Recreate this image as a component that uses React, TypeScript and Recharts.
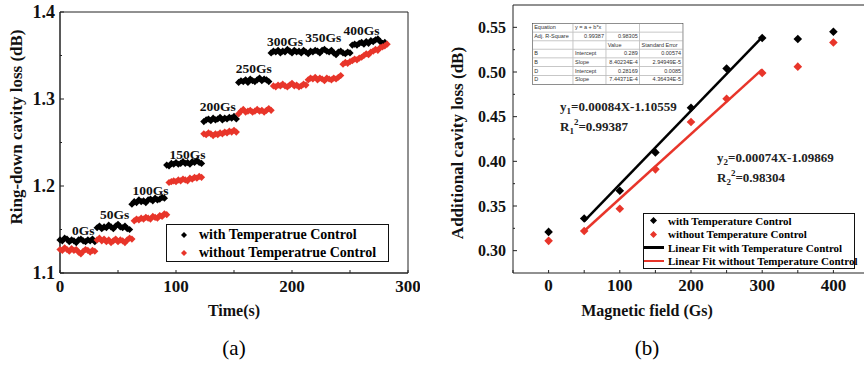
import React from 'react';
import {
  ScatterChart,
  Scatter,
  XAxis,
  YAxis,
  ReferenceArea,
  ReferenceLine,
  ReferenceDot,
} from 'recharts';

const SERIF = '"Liberation Serif", "Times New Roman", serif';
const SANS = '"Liberation Sans", Arial, sans-serif';
const BLACK = '#000000';
const RED = '#e8352a';
const AXIS = '#222222';

// ---- (a) ring-down cavity loss vs time, one sample every 2 s ----
const TIME_STEP = 2;
const withTempLoss = [
  // 0Gs
  1.138, 1.137, 1.14, 1.139, 1.136, 1.138, 1.137, 1.135, 1.138, 1.139, 1.137, 1.136, 1.138, 1.137, 1.139, 1.136,
  // 50Gs
  1.152, 1.154, 1.151, 1.153, 1.152, 1.155, 1.153, 1.151, 1.154, 1.156, 1.153, 1.152, 1.154, 1.151, 1.15,
  // 100Gs
  1.179, 1.182, 1.181, 1.184, 1.182, 1.183, 1.181, 1.184, 1.185, 1.183, 1.186, 1.184, 1.185, 1.187, 1.186,
  // 150Gs
  1.224, 1.223, 1.226, 1.225, 1.227, 1.225, 1.226, 1.228, 1.226, 1.227, 1.225, 1.228, 1.227, 1.229, 1.227, 1.226,
  // 200Gs
  1.274, 1.276, 1.277, 1.275, 1.278, 1.276, 1.277, 1.279, 1.276, 1.278, 1.277, 1.279, 1.278, 1.28, 1.277,
  // 250Gs
  1.319, 1.321, 1.32, 1.322, 1.319, 1.323, 1.321, 1.32, 1.322, 1.324, 1.321, 1.323, 1.322, 1.32,
  // 300Gs + 350Gs
  1.353, 1.355, 1.354, 1.356, 1.353, 1.355, 1.354, 1.357, 1.355, 1.353, 1.356, 1.354, 1.355, 1.353, 1.356, 1.354,
  1.352, 1.355, 1.354, 1.356, 1.355, 1.353, 1.356, 1.357, 1.355, 1.354, 1.356, 1.353, 1.351, 1.354, 1.355, 1.353,
  1.352, 1.354, 1.353,
  // 400Gs
  1.362, 1.363, 1.362, 1.364, 1.365, 1.363, 1.366, 1.364, 1.367, 1.366, 1.368, 1.369, 1.366, 1.364, 1.365,
];
const withoutTempLoss = [
  // 0Gs
  1.127, 1.126, 1.129, 1.127, 1.125, 1.128, 1.126, 1.127, 1.124, 1.122, 1.125, 1.127, 1.126, 1.124, 1.126, 1.125,
  // 50Gs
  1.138, 1.14, 1.137, 1.139, 1.136, 1.138, 1.135, 1.137, 1.139, 1.136, 1.138, 1.137, 1.135, 1.138, 1.14, 1.139,
  // 100Gs
  1.16, 1.162, 1.161, 1.163, 1.162, 1.164, 1.163, 1.162, 1.165, 1.164, 1.163, 1.166, 1.165, 1.168, 1.167,
  // 150Gs
  1.204, 1.205, 1.206, 1.205, 1.207, 1.206, 1.208, 1.207, 1.206, 1.209, 1.208, 1.21, 1.209, 1.211, 1.21,
  // 200Gs
  1.26, 1.259, 1.261, 1.26, 1.258, 1.26, 1.259, 1.261, 1.26, 1.262, 1.261, 1.263, 1.262, 1.264, 1.262,
  // 250Gs
  1.283, 1.286, 1.288, 1.285, 1.286, 1.287, 1.285, 1.286, 1.288, 1.286, 1.287, 1.285, 1.287, 1.289, 1.287,
  // 300Gs
  1.315, 1.314, 1.316, 1.315, 1.317, 1.315, 1.314, 1.316, 1.318, 1.315, 1.316, 1.314, 1.315, 1.317, 1.316,
  // 350Gs
  1.322, 1.324, 1.323, 1.325, 1.322, 1.324, 1.323, 1.321, 1.324, 1.323, 1.322, 1.324, 1.323, 1.325, 1.327,
  // 400Gs
  1.34, 1.342, 1.341, 1.343, 1.344, 1.346, 1.345, 1.347, 1.348, 1.35, 1.352, 1.351, 1.354, 1.355, 1.357, 1.356,
  1.359, 1.36, 1.361, 1.363,
];
const fieldLabels = ['0Gs', '50Gs', '100Gs', '150Gs', '200Gs', '250Gs', '300Gs', '350Gs', '400Gs'];
const fieldLabelTime = [20, 47, 78, 110, 136, 167, 194, 227, 260];
const fieldLabelLoss = [1.149, 1.168, 1.195, 1.237, 1.292, 1.335, 1.367, 1.371, 1.379];

const timeTicks = [0, 50, 100, 150, 200, 250, 300];
const timeLabels = [0, 100, 200, 300];
const lossTicks = [1.1, 1.15, 1.2, 1.25, 1.3, 1.35, 1.4];

// ---- (b) additional cavity loss vs magnetic field ----
const fieldGs = [0, 50, 100, 150, 200, 250, 300, 350, 400];
const withTempAdd = [0.321, 0.336, 0.367, 0.41, 0.46, 0.504, 0.538, 0.537, 0.545];
const withoutTempAdd = [0.311, 0.322, 0.347, 0.391, 0.444, 0.47, 0.499, 0.506, 0.533];
const fitGs = [50, 300];
const fitWithY = [0.333, 0.539];
const fitWithoutY = [0.322, 0.503];

const fieldTicks = [-50, 0, 50, 100, 150, 200, 250, 300, 350, 400];
const fieldTickLabels = [0, 100, 200, 300, 400];
const addTicks = [0.3, 0.325, 0.35, 0.375, 0.4, 0.425, 0.45, 0.475, 0.5, 0.525, 0.55];

const tableRows = [
  ['Equation', 'y = a + b*x', '', ''],
  ['Adj. R-Square', '0.99387', '0.98305', ''],
  ['', '', 'Value', 'Standard Error'],
  ['B', 'Intercept', '0.289', '0.00574'],
  ['B', 'Slope', '8.40234E-4', '2.94949E-5'],
  ['D', 'Intercept', '0.28169', '0.0085'],
  ['D', 'Slope', '7.44371E-4', '4.36434E-5'],
];

const lossSeries = (vals: number[]) => vals.map((v, i) => ({ x: i * TIME_STEP, y: v }));
const pairs = (xs: number[], ys: number[]) => xs.map((x, i) => ({ x, y: ys[i] }));

const diamond = (r: number) => (props: any) => {
  const { cx, cy, fill } = props;
  if (cx == null || cy == null) return <g />;
  return <path d={`M${cx},${cy - r}L${cx + r},${cy}L${cx},${cy + r}L${cx - r},${cy}Z`} fill={fill} />;
};

// inward ticks, labels only on the majors
const bottomTick = (labels: number[], len: number, fontSize: number, dy: number) => (props: any) => {
  const { x, y, payload } = props;
  const v = payload.value;
  return (
    <g>
      <line x1={x} x2={x} y1={y} y2={y - len} stroke={AXIS} />
      {labels.includes(v) && (
        <text x={x} y={y + dy} textAnchor="middle" fontFamily={SERIF} fontWeight="bold" fontSize={fontSize} fill="#111">
          {v}
        </text>
      )}
    </g>
  );
};

const leftTick = (isMajor: (v: number) => boolean, fmt: (v: number) => string, fontSize: number, dx: number) => (props: any) => {
  const { x, y, payload } = props;
  const v = payload.value;
  const major = isMajor(v);
  return (
    <g>
      <line x1={x} x2={x + (major ? 4 : 2)} y1={y} y2={y} stroke={AXIS} />
      {major && (
        <text x={x - dx} y={y} dy="0.35em" textAnchor="end" fontFamily={SERIF} fontWeight="bold" fontSize={fontSize} fill="#111">
          {fmt(v)}
        </text>
      )}
    </g>
  );
};

const Diamond = ({ color, r }: { color: string; r: number }) => (
  <svg width={2 * r + 2} height={2 * r + 2} style={{ display: 'block' }}>
    <path d={`M${r + 1},1L${2 * r + 1},${r + 1}L${r + 1},${2 * r + 1}L1,${r + 1}Z`} fill={color} />
  </svg>
);

const abs = (left: number, top: number, extra: React.CSSProperties = {}): React.CSSProperties => ({
  position: 'absolute',
  left,
  top,
  ...extra,
});

const eqStyle: React.CSSProperties = {
  fontFamily: SERIF,
  fontWeight: 'bold',
  fontSize: 13,
  lineHeight: '16px',
  color: '#222',
  whiteSpace: 'nowrap',
};
const subStyle: React.CSSProperties = { fontSize: 9, verticalAlign: -3, lineHeight: 0 };
const supStyle: React.CSSProperties = { fontSize: 9, verticalAlign: 6, lineHeight: 0 };

export default function App() {
  const withSeries = lossSeries(withTempLoss);
  const withoutSeries = lossSeries(withoutTempLoss);
  const withAdd = pairs(fieldGs, withTempAdd);
  const withoutAdd = pairs(fieldGs, withoutTempAdd);
  const fitWith = pairs(fitGs, fitWithY);
  const fitWithout = pairs(fitGs, fitWithoutY);

  const titleStyle: React.CSSProperties = {
    fontFamily: SERIF,
    fontWeight: 'bold',
    fontSize: 17,
    color: '#111',
    textAlign: 'center',
    lineHeight: '20px',
    whiteSpace: 'nowrap',
  };

  return (
    <div style={abs(0, 0, { width: 864, height: 365, overflow: 'hidden', background: '#fff', fontFamily: SERIF })}>
      {/* (a) */}
      <div style={abs(0, 0)}>
        <ScatterChart width={420} height={300} margin={{ top: 12, right: 12, bottom: 7, left: 20 }}>
          <XAxis
            type="number"
            dataKey="x"
            domain={[0, 300]}
            ticks={timeTicks}
            interval={0}
            tickSize={0}
            tickMargin={0}
            height={20}
            axisLine={{ stroke: AXIS }}
            tickLine={false}
            tick={bottomTick(timeLabels, 3, 17, 19)}
          />
          <YAxis
            type="number"
            dataKey="y"
            domain={[1.1, 1.4]}
            ticks={lossTicks}
            interval={0}
            tickSize={0}
            tickMargin={0}
            width={40}
            axisLine={{ stroke: AXIS }}
            tickLine={false}
            tick={leftTick((v) => Math.round(v * 100) % 10 === 0, (v) => v.toFixed(1), 18, 5)}
          />
          <ReferenceArea x1={0} x2={300} y1={1.1} y2={1.4} fill="none" stroke={AXIS} />
          <Scatter data={withSeries} fill={BLACK} shape={diamond(3.6)} isAnimationActive={false} />
          <Scatter data={withoutSeries} fill={RED} shape={diamond(3.6)} isAnimationActive={false} />
          {fieldLabels.map((lab, i) => (
            <ReferenceDot
              key={lab}
              x={fieldLabelTime[i]}
              y={fieldLabelLoss[i]}
              r={0}
              fill="none"
              stroke="none"
              label={{ value: lab, position: 'center', fill: '#111', fontSize: 13.5, fontWeight: 'bold', fontFamily: SERIF }}
            />
          ))}
        </ScatterChart>
      </div>

      {/* legend (a) */}
      <div style={abs(166, 224, { width: 221, height: 36, border: '1px solid #111', background: '#fff' })}>
        {[
          { c: BLACK, t: 'with Temperatrue Control' },
          { c: RED, t: 'without Temperatrue Control' },
        ].map((e, i) => (
          <div key={e.t} style={abs(0, 1 + i * 18, { display: 'flex', alignItems: 'center', height: 17 })}>
            <div style={{ marginLeft: 13, marginRight: 11 }}>
              <Diamond color={e.c} r={3} />
            </div>
            <span style={{ fontFamily: SERIF, fontWeight: 'bold', fontSize: 14, whiteSpace: 'nowrap' }}>{e.t}</span>
          </div>
        ))}
      </div>

      <div style={abs(-113, 117, { ...titleStyle, width: 260, transform: 'rotate(-90deg)' })}>Ring-down cavity loss (dB)</div>
      <div style={abs(134, 301, { ...titleStyle, width: 200, fontSize: 16 })}>Time(s)</div>
      <div style={abs(184, 336, { width: 100, textAlign: 'center', fontFamily: SERIF, fontSize: 21, lineHeight: '24px' })}>(a)</div>

      {/* (b) */}
      <div style={abs(440, 0)}>
        <ScatterChart width={440} height={300} margin={{ top: 5, right: 11, bottom: 7, left: 33 }}>
          <XAxis
            type="number"
            dataKey="x"
            domain={[-50, 450]}
            ticks={fieldTicks}
            interval={0}
            tickSize={0}
            tickMargin={0}
            height={20}
            axisLine={{ stroke: AXIS }}
            tickLine={false}
            tick={bottomTick(fieldTickLabels, 3, 17, 18)}
          />
          <YAxis
            type="number"
            dataKey="y"
            domain={[0.275, 0.575]}
            ticks={addTicks}
            interval={0}
            tickSize={0}
            tickMargin={0}
            width={40}
            axisLine={{ stroke: AXIS }}
            tickLine={false}
            tick={leftTick((v) => Math.round(v * 1000) % 50 === 0, (v) => v.toFixed(2), 16, 7)}
          />
          <ReferenceLine y={0.575} stroke={AXIS} />
          <Scatter data={fitWith} fill={BLACK} line={{ stroke: BLACK, strokeWidth: 2.5 }} shape={() => <g />} isAnimationActive={false} />
          <Scatter data={fitWithout} fill={RED} line={{ stroke: RED, strokeWidth: 2.5 }} shape={() => <g />} isAnimationActive={false} />
          <Scatter data={withAdd} fill={BLACK} shape={diamond(4.3)} isAnimationActive={false} />
          <Scatter data={withoutAdd} fill={RED} shape={diamond(4.3)} isAnimationActive={false} />
        </ScatterChart>
      </div>

      {/* fit table */}
      <div
        style={abs(532, 23, {
          width: 273,
          transform: 'scale(0.55)',
          transformOrigin: '0 0',
          border: '1.5px solid #333',
          background: '#fff',
          fontFamily: SANS,
          fontSize: 10,
          color: '#333',
        })}
      >
        {tableRows.map((row, r) => (
          <div key={r} style={{ display: 'flex', height: 14.8, borderTop: r ? '1px solid #999' : 'none' }}>
            {row.map((cell, c) => {
              const numeric = /^[0-9]/.test(cell);
              return (
                <div
                  key={c}
                  style={{
                    width: [74, 58, 60, 79][c],
                    borderLeft: c ? '1px solid #999' : 'none',
                    padding: '0 3px',
                    lineHeight: '14px',
                    whiteSpace: 'nowrap',
                    overflow: 'visible',
                    textAlign: numeric ? 'right' : 'left',
                  }}
                >
                  {cell}
                </div>
              );
            })}
          </div>
        ))}
      </div>

      {/* fit equations */}
      <div style={abs(560, 99, eqStyle)}>
        y<span style={subStyle}>1</span>=0.00084X-1.10559
      </div>
      <div style={abs(560, 119, eqStyle)}>
        R<span style={subStyle}>1</span>
        <span style={supStyle}>2</span>=0.99387
      </div>
      <div style={abs(717, 150, eqStyle)}>
        y<span style={subStyle}>2</span>=0.00074X-1.09869
      </div>
      <div style={abs(717, 170, eqStyle)}>
        R<span style={subStyle}>2</span>
        <span style={supStyle}>2</span>=0.98304
      </div>

      {/* legend (b) */}
      <div style={abs(643, 213, { width: 210, height: 54, border: '1px solid #111', background: '#fff' })}>
        {[
          { c: BLACK, t: 'with Temperature Control', line: false },
          { c: RED, t: 'without Temperature Control', line: false },
          { c: BLACK, t: 'Linear Fit with Temperature Control', line: true },
          { c: RED, t: 'Linear Fit without Temperature Control', line: true },
        ].map((e, i) => (
          <div key={e.t} style={abs(0, i * 13.5, { display: 'flex', alignItems: 'center', height: 13 })}>
            {e.line ? (
              <div style={{ width: 20, height: 2.5, background: e.c, marginRight: 4 }} />
            ) : (
              <div style={{ marginLeft: 5, marginRight: 10 }}>
                <Diamond color={e.c} r={3.5} />
              </div>
            )}
            <span style={{ fontFamily: SERIF, fontWeight: 'bold', fontSize: 11, whiteSpace: 'nowrap' }}>{e.t}</span>
          </div>
        ))}
      </div>

      <div style={abs(328, 133, { ...titleStyle, width: 260, transform: 'rotate(-90deg)' })}>Additional cavity loss (dB)</div>
      <div style={abs(547, 301, { ...titleStyle, width: 200, fontSize: 16 })}>Magnetic field (Gs)</div>
      <div style={abs(597, 336, { width: 100, textAlign: 'center', fontFamily: SERIF, fontSize: 21, lineHeight: '24px' })}>(b)</div>
    </div>
  );
}
